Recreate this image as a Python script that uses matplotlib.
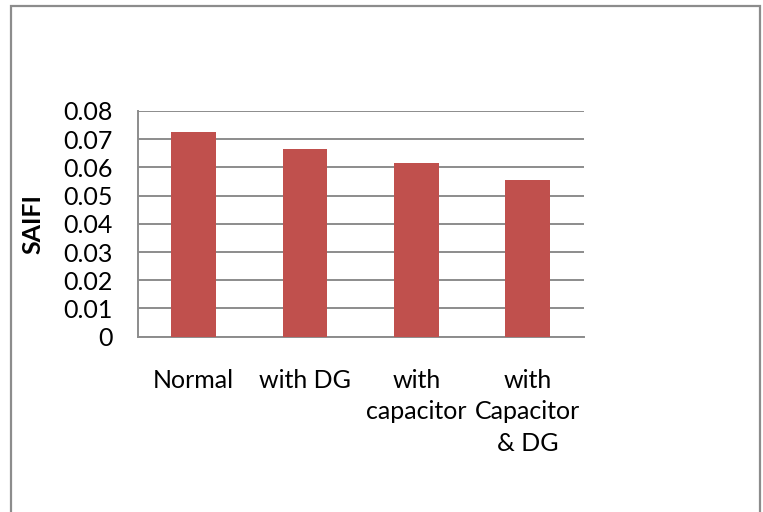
import matplotlib.pyplot as plt
from matplotlib.patches import Rectangle

categories = ["Normal", "with DG", "with\ncapacitor", "with\nCapacitor\n& DG"]
saifi = [0.0727, 0.0667, 0.0617, 0.0556]
yticks = [0, 0.01, 0.02, 0.03, 0.04, 0.05, 0.06, 0.07, 0.08]

plt.rcParams['font.family'] = ['Lato', 'DejaVu Sans']

W, H = 763, 512
fig = plt.figure(figsize=(W / 100, H / 100), dpi=100)

# outer chart border (bottom edge falls outside the picture)
fig.patches.append(Rectangle((11 / W, -0.02), (760 - 11) / W, (1 - 6 / H) + 0.02,
                             transform=fig.transFigure, fill=False,
                             edgecolor='#8c8c8c', linewidth=1.6))

left, right = 137.7 / W, 583.5 / W
top, bottom = 1 - 111 / H, 1 - 336.7 / H
ax = fig.add_axes([left, bottom, right - left, top - bottom])

x = range(len(categories))
ax.bar(x, saifi, width=0.4, color='#C0504D', zorder=3)

ax.set_xlim(-0.5, len(categories) - 0.5)
ax.set_ylim(0, 0.08)
ax.set_yticks(yticks)
ax.set_yticklabels(["0"] + [f"{v:.2f}" for v in yticks[1:]], fontsize=18)
ax.tick_params(axis='y', length=0, pad=18)
ax.set_xticks(list(x))
ax.set_xticklabels(categories, fontsize=18, va='top', multialignment='center',
                   linespacing=1.45)
ax.tick_params(axis='x', length=0, pad=23)

ax.grid(axis='y', color='#8c8c8c', linewidth=1.4, zorder=0)
for side in ['right', 'top']:
    ax.spines[side].set_visible(False)
for side in ['left', 'bottom']:
    ax.spines[side].set_color('#8c8c8c')
    ax.spines[side].set_linewidth(1.4)

fig.text(33 / W, 1 - 224 / H, "SAIFI", rotation=90, fontsize=18, weight='bold',
         ha='center', va='center')

fig.savefig("out.png", dpi=100)
